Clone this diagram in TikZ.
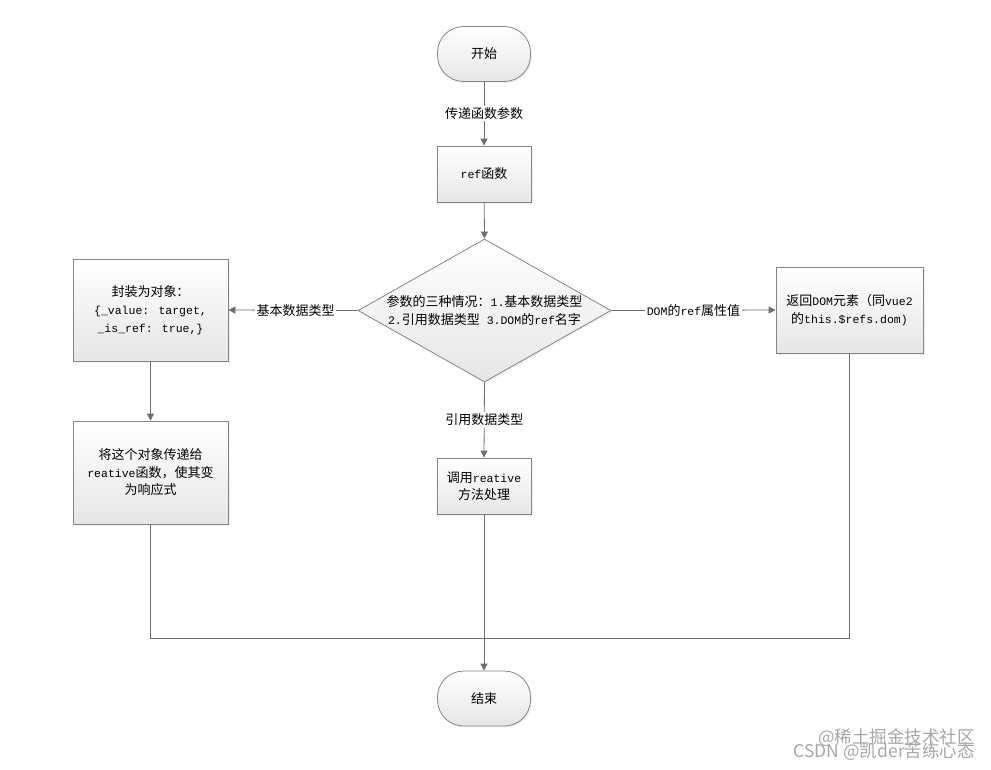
\documentclass[tikz,border=0pt]{standalone}
\usepackage{fontspec}
\setmainfont{Liberation Mono}
\newfontfamily\zhfont{Noto Sans CJK SC}
\newfontfamily\wmfont{Noto Sans CJK SC}
\newcommand\zh[1]{{\zhfont\fontsize{13pt}{17.5pt}\selectfont #1}}
\usetikzlibrary{arrows.meta,shapes.geometric,shadows}
\definecolor{edge}{HTML}{6E6E6E}
\definecolor{frame}{HTML}{858585}
\definecolor{fillbot}{HTML}{E6E6E6}
\begin{document}
\begin{tikzpicture}[x=1pt,y=-1pt,
  every node/.style={font=\fontsize{11.5pt}{17.5pt}\selectfont},
  shade box/.style={draw=frame, line width=0.8pt, top color=white, bottom color=fillbot,
     drop shadow={shadow xshift=1.5pt, shadow yshift=-1.5pt, opacity=0.12}},
  procbox/.style={shade box, rectangle, inner sep=0pt, align=center},
  termbox/.style={shade box, rectangle, rounded corners=26pt, minimum width=93pt, minimum height=55pt, inner sep=0pt},
  decbox/.style={shade box, diamond, inner sep=0pt, minimum width=253pt, minimum height=143pt},
  conn/.style={draw=edge, line width=0.8pt},
  arr/.style={conn, -{Triangle[width=7pt,length=7pt]}},
  lbl/.style={fill=white, inner sep=1.5pt},
  wm/.style={text=black!35, font=\wmfont\fontsize{17.5pt}{17.5pt}\selectfont, inner sep=0pt}
]
\useasboundingbox (0,0) rectangle (991,769);

\node[termbox] (start) at (484,54) {\zh{开始}};
\node[procbox, minimum width=94pt, minimum height=56pt] (ref) at (484,174) {ref\zh{函数}};
\node[decbox] (dec) at (484.5,310.5) {};
\node[align=center] (dectext) at (484.5,310.5) {\zh{参数的三种情况：}1.\zh{基本数据类型}\\2.\zh{引用数据类型} 3.DOM\zh{的}ref\zh{名字}};
\node[procbox, minimum width=155pt, minimum height=102pt, font=\fontsize{11.5pt}{18pt}\selectfont] (wrap) at (150.5,310) {\zh{封装为对象：}\\{\{}\_value: target,\\\_is\_ref: true,\}};
\node[procbox, minimum width=147pt, minimum height=86pt] (dom) at (849.5,310) {\zh{返回}DOM\zh{元素（同}vue2\\\zh{的}this.\$refs.dom)};
\node[procbox, minimum width=155pt, minimum height=103pt] (pass) at (150.5,472.5) {\zh{将这个对象传递给}\\reative\zh{函数，使其变}\\\zh{为响应式}};
\node[procbox, minimum width=94pt, minimum height=56pt] (react) at (484,486) {\zh{调用}reative\\\zh{方法处理}};
\node[termbox] (end) at (484,698.5) {\zh{结束}};
\coordinate (merge) at (484,638);

\draw[arr] (start) -- node[lbl] {\zh{传递函数参数}} (ref);
\draw[arr] (ref) -- (dec.north);
\draw[arr] (dec.west) -- node[lbl, pos=0.48] {\zh{基本数据类型}} (wrap.east);
\draw[arr] (dec.east) -- node[lbl, pos=0.5] {DOM\zh{的}ref\zh{属性值}} (dom.west);
\draw[arr] (dec.south) -- node[lbl] {\zh{引用数据类型}} (react.north);
\draw[arr] (wrap) -- (pass);
\draw[conn] (pass.south) |- (merge);
\draw[conn] (dom.south) |- (merge);
\draw[arr] (react.south) -- (end.north);

\node[wm, anchor=east] (wm1) at (975,738) {@稀土掘金技术社区};
\node[wm, anchor=east] (wm2) at (975,752) {CSDN @凯der苦练心态};
\end{tikzpicture}
\end{document}
